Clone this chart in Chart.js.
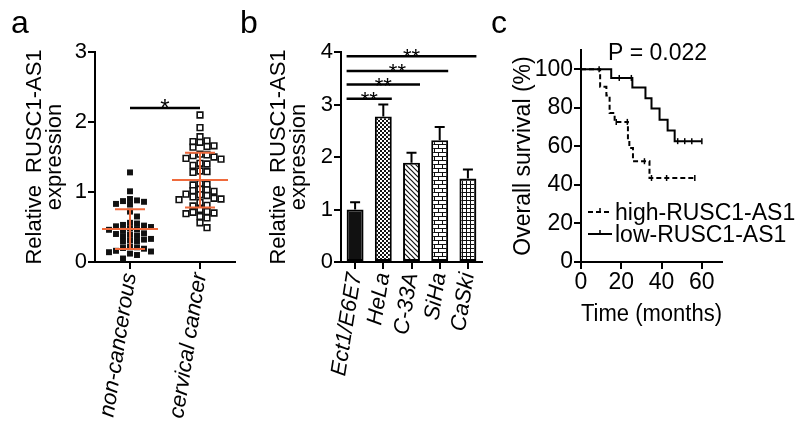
<!DOCTYPE html>
<html>
<head>
<meta charset="utf-8">
<script src="https://cdn.jsdelivr.net/npm/chart.js@4.4.1/dist/chart.umd.min.js"></script>
<style>
  body { margin: 0; background: #fff; }
  #wrap { position: relative; width: 800px; height: 430px; overflow: hidden; font-family: Arial, "Liberation Sans", sans-serif; }
  .panel { position: absolute; top: 0; }
  .panel canvas { display: block; }
  .tag { position: absolute; font-size: 32px; line-height: 32px; color: #000; }
</style>
</head>
<body>
<div id="wrap">
  <div class="panel" style="left:0"><canvas id="chartA" width="246" height="430"></canvas></div>
  <div class="panel" style="left:246px"><canvas id="chartB" width="240" height="430"></canvas></div>
  <div class="panel" style="left:486px"><canvas id="chartC" width="314" height="430"></canvas></div>
  <div class="tag" style="left:11px;top:6px">a</div>
  <div class="tag" style="left:240px;top:6px">b</div>
  <div class="tag" style="left:491px;top:6px">c</div>
</div>
<script>
// Panel a - tissue expression
const groupLabels = ["non-cancerous", "cervical cancer"];
const groupPos = [0.5, 1.5];
const nonCancerous = [1.28, 1.01, 0.90, 0.88, 0.87, 0.86, 0.83, 0.82, 0.72, 0.65, 0.56, 0.55, 0.53, 0.52,
  0.51, 0.50, 0.48, 0.47, 0.46, 0.45, 0.41, 0.40, 0.39, 0.38, 0.37, 0.33, 0.32, 0.31, 0.30, 0.29,
  0.22, 0.21, 0.20, 0.19, 0.16, 0.15, 0.14, 0.12, 0.10, 0.05];
const cervicalCancer = [2.10, 1.92, 1.79, 1.73, 1.72, 1.71, 1.66, 1.65, 1.64, 1.54, 1.53, 1.52, 1.50,
  1.48, 1.47, 1.41, 1.40, 1.38, 1.30, 1.29, 1.28, 1.12, 1.11, 1.10, 1.04, 1.03, 1.02, 1.01, 0.97,
  0.96, 0.95, 0.93, 0.91, 0.90, 0.89, 0.85, 0.81, 0.80, 0.75, 0.72, 0.71, 0.70, 0.69, 0.65, 0.63,
  0.56, 0.49];
const meanA = [0.47, 1.17];
const sdA = [0.285, 0.39];
const sigAY = 2.2;

// Panel b - cell lines
const cellLines = ["Ect1/E6E7", "HeLa", "C-33A", "SiHa", "CaSki"];
const cellExpr = [1.0, 2.77, 1.89, 2.32, 1.59];
const cellErr = [0.14, 0.23, 0.19, 0.25, 0.17];
const sigTargets = [1, 2, 3, 4];
const sigLevels = [3.11, 3.38, 3.64, 3.92];

// Panel c - survival
const highTimes = [0, 9.5, 12.6, 14.2, 16.7, 23.3, 24.0, 25.8, 34.0, 56.5];
const highSurv = [100, 90.9, 86.4, 77.3, 72.7, 63.6, 59.1, 52.3, 43.6, 43.6];
const lowTimes = [0, 15, 25.5, 32, 35, 39, 43, 46.5, 60];
const lowSurv = [100, 95.5, 90.5, 85.0, 79.6, 73.8, 68.2, 62.7, 62.7];
const highCensor = [17.5, 23, 31.5, 35, 42.5, 56.5];
const lowCensor = [9, 19, 25, 48, 51.5, 55, 60];
const kmLabels = ["high-RUSC1-AS1", "low-RUSC1-AS1"];
const timeTicks = [0, 20, 40, 60];
const survTicks = [0, 20, 40, 60, 80, 100];

const FONT = 'Arial, "Liberation Sans", sans-serif';
Chart.defaults.font.family = FONT;
Chart.defaults.color = "#000";

function axisLines(tickLength) {
    return {
        grid: { drawOnChartArea: false, drawTicks: true, tickLength: tickLength, color: "#000", lineWidth: 2, tickWidth: 2, offset: false },
        border: { color: "#000", width: 2 }
    };
}

function yAxis(min, max, step, size, title, padTop) {
    return {
        min: min, max: max,
        ticks: { stepSize: step, font: { size: size }, color: "#000", padding: 1 },
        ...axisLines(7),
        title: { display: true, text: title, color: "#000", font: { size: size, lineHeight: 0.9 }, padding: { top: padTop, bottom: 0 } },
        afterFit: s => { s.width = 95; s.paddingTop = 0; s.paddingBottom = 0; }
    };
}

function fixHeight(s) { s.height = 168; s.paddingLeft = 0; s.paddingRight = 0; }

// simple beeswarm: stack points sideways when they would overlap
function swarm(values, center, step, rowH) {
    const placed = [];
    values.slice().sort((p, q) => q - p).forEach(v => {
        for (let k = 0; ; k++) {
            const off = k === 0 ? 0 : (k % 2 ? 1 : -1) * Math.ceil(k / 2) * step;
            const hit = placed.some(p => Math.abs(p.x - (center + off)) < step * 0.9 && Math.abs(p.y - v) < rowH);
            if (!hit) { placed.push({ x: center + off, y: v }); break; }
        }
    });
    return placed;
}

const baseOpts = {
    responsive: false,
    animation: false,
    events: [],
    plugins: { legend: { display: false }, tooltip: { enabled: false } }
};

// ---------- Panel a ----------
const errA = {
    id: "errA",
    afterDatasetsDraw(chart) {
        const { ctx, scales: { x, y } } = chart;
        ctx.save();
        ctx.strokeStyle = "#ef6a3c";
        ctx.lineWidth = 2;
        groupPos.forEach((g, i) => {
            const cx = x.getPixelForValue(g);
            const m = y.getPixelForValue(meanA[i]);
            const lo = y.getPixelForValue(meanA[i] - sdA[i]);
            const hi = y.getPixelForValue(meanA[i] + sdA[i]);
            ctx.beginPath();
            ctx.moveTo(cx - 28, m); ctx.lineTo(cx + 28, m);
            ctx.moveTo(cx, lo); ctx.lineTo(cx, hi);
            ctx.moveTo(cx - 15, lo); ctx.lineTo(cx + 15, lo);
            ctx.moveTo(cx - 15, hi); ctx.lineTo(cx + 15, hi);
            ctx.stroke();
        });
        // significance bar
        const sy = y.getPixelForValue(sigAY);
        const x0 = x.getPixelForValue(groupPos[0]);
        const x1 = x.getPixelForValue(groupPos[1]);
        ctx.strokeStyle = "#000";
        ctx.lineWidth = 2.5;
        ctx.beginPath(); ctx.moveTo(x0, sy); ctx.lineTo(x1, sy); ctx.stroke();
        ctx.fillStyle = "#000";
        ctx.font = "24px " + FONT;
        ctx.textAlign = "center";
        ctx.fillText("*", (x0 + x1) / 2, sy + 8);
        ctx.restore();
    }
};

new Chart(document.getElementById("chartA"), {
    type: "scatter",
    data: {
        datasets: [{
            data: swarm(nonCancerous, groupPos[0], 0.1, 0.08),
            pointStyle: "rect", pointRadius: 4.2,
            pointBackgroundColor: "#111", pointBorderColor: "#111", pointBorderWidth: 0
        }, {
            data: swarm(cervicalCancer, groupPos[1], 0.1, 0.08),
            pointStyle: "rect", pointRadius: 4.0,
            pointBackgroundColor: "#fff", pointBorderColor: "#111", pointBorderWidth: 1.6
        }]
    },
    options: {
        ...baseOpts,
        layout: { padding: { top: 52, right: 11, left: 0, bottom: 0 } },
        scales: {
            x: {
                type: "linear", min: 0, max: 2,
                afterBuildTicks: s => { s.ticks = groupPos.map(v => ({ value: v })); },
                ticks: { callback: (v, i) => groupLabels[i], font: { size: 22, style: "italic" }, color: "#000",
                    minRotation: 81, maxRotation: 81, autoSkip: false, padding: 2 },
                ...axisLines(7),
                afterFit: fixHeight
            },
            y: yAxis(0, 3, 1, 22, ["Relative  RUSC1-AS1", "expression"], 25)
        }
    },
    plugins: [errA]
});

// ---------- Panel b ----------
function makePattern(w, h, draw) {
    const c = document.createElement("canvas");
    c.width = w; c.height = h;
    const g = c.getContext("2d");
    g.fillStyle = "#fff"; g.fillRect(0, 0, w, h);
    g.fillStyle = "#111"; g.strokeStyle = "#111"; g.lineWidth = 1.2;
    draw(g);
    return g.createPattern(c, "repeat");
}

const barFills = [
    "#111",
    makePattern(4, 4, g => { g.fillRect(0, 0, 2, 2); g.fillRect(2, 2, 2, 2); }),
    makePattern(5, 5, g => {
        g.beginPath();
        g.moveTo(-1, -1); g.lineTo(6, 6);
        g.moveTo(-1, 4); g.lineTo(1, 6);
        g.moveTo(4, -1); g.lineTo(6, 1);
        g.stroke();
    }),
    makePattern(8, 8, g => {
        g.fillRect(0, 0, 8, 1); g.fillRect(0, 4, 8, 1);
        g.fillRect(0, 0, 1, 4); g.fillRect(4, 4, 1, 4);
    }),
    makePattern(4, 4, g => { g.fillRect(0, 0, 4, 1); g.fillRect(0, 0, 1, 4); })
];

const errB = {
    id: "errB",
    afterDatasetsDraw(chart) {
        const { ctx, scales: { x, y } } = chart;
        const half = 8.5;
        ctx.save();
        ctx.strokeStyle = "#000";
        ctx.lineWidth = 2;
        cellExpr.forEach((v, i) => {
            const cx = x.getPixelForValue(i);
            const top = y.getPixelForValue(v);
            const hi = y.getPixelForValue(v + cellErr[i]);
            ctx.beginPath();
            ctx.moveTo(cx, top); ctx.lineTo(cx, hi);
            ctx.moveTo(cx - 5, hi); ctx.lineTo(cx + 5, hi);
            ctx.stroke();
        });
        ctx.fillStyle = "#000";
        ctx.font = "22px " + FONT;
        ctx.textAlign = "center";
        sigTargets.forEach((t, i) => {
            const sy = y.getPixelForValue(sigLevels[i]);
            const x0 = x.getPixelForValue(0) - half;
            const x1 = x.getPixelForValue(t) + half;
            ctx.lineWidth = 2.5;
            ctx.beginPath(); ctx.moveTo(x0, sy); ctx.lineTo(x1, sy); ctx.stroke();
            ctx.fillText("**", (x0 + x1) / 2, sy + 8);
        });
        ctx.restore();
    }
};

new Chart(document.getElementById("chartB"), {
    type: "bar",
    data: {
        labels: cellLines,
        datasets: [{
            data: cellExpr,
            backgroundColor: barFills,
            borderColor: "#000",
            borderWidth: 2,
            borderSkipped: false,
            barPercentage: 0.6,
            categoryPercentage: 1.0
        }]
    },
    options: {
        ...baseOpts,
        layout: { padding: { top: 52, right: 4, left: 0, bottom: 0 } },
        scales: {
            x: {
                ticks: { font: { size: 22, style: "italic" }, color: "#000", minRotation: 81, maxRotation: 81, autoSkip: false, padding: 2 },
                ...axisLines(7),
                afterFit: fixHeight
            },
            y: yAxis(0, 4, 1, 22, ["Relative  RUSC1-AS1", "expression"], 23)
        }
    },
    plugins: [errB]
});

// ---------- Panel c ----------
function survAt(times, surv, t) {
    let s = surv[0];
    times.forEach((tt, i) => { if (tt <= t) s = surv[i]; });
    return s;
}
const kmPoints = (times, surv) => times.map((t, i) => ({ x: t, y: surv[i] }));
const censorPoints = (list, times, surv) => list.map(t => ({ x: t, y: survAt(times, surv, t) }));

const kmExtras = {
    id: "kmExtras",
    afterDatasetsDraw(chart) {
        const ctx = chart.ctx;
        ctx.save();
        ctx.fillStyle = "#000";
        ctx.strokeStyle = "#000";
        ctx.font = "23px " + FONT;
        ctx.textAlign = "left";
        ctx.fillText("P = 0.022", 122, 60);
        // legend
        const rows = [{ y: 212, dash: [5, 3] }, { y: 234, dash: [] }];
        rows.forEach((r, i) => {
            ctx.lineWidth = 2;
            ctx.setLineDash(r.dash);
            ctx.beginPath(); ctx.moveTo(102, r.y); ctx.lineTo(126, r.y); ctx.stroke();
            ctx.setLineDash([]);
            ctx.lineWidth = 1.5;
            ctx.beginPath(); ctx.moveTo(114, r.y - 4); ctx.lineTo(114, r.y); ctx.stroke();
            ctx.fillText(kmLabels[i], 129, r.y + 8);
        });
        ctx.restore();
    }
};

new Chart(document.getElementById("chartC"), {
    type: "scatter",
    data: {
        datasets: [{
            data: kmPoints(highTimes, highSurv),
            showLine: true, stepped: "before", borderColor: "#000", borderWidth: 2, borderDash: [5, 3], pointRadius: 0
        }, {
            data: kmPoints(lowTimes, lowSurv),
            showLine: true, stepped: "before", borderColor: "#000", borderWidth: 2, pointRadius: 0
        }, {
            data: censorPoints(highCensor, highTimes, highSurv),
            showLine: false, pointStyle: "line", pointRotation: 90, pointRadius: 3, pointBorderColor: "#000", pointBorderWidth: 1.5
        }, {
            data: censorPoints(lowCensor, lowTimes, lowSurv),
            showLine: false, pointStyle: "line", pointRotation: 90, pointRadius: 3, pointBorderColor: "#000", pointBorderWidth: 1.5
        }]
    },
    options: {
        ...baseOpts,
        layout: { padding: { top: 50, right: 78, left: 0, bottom: 0 } },
        scales: {
            x: {
                type: "linear", min: 0, max: 70,
                afterBuildTicks: s => { s.ticks = timeTicks.map(v => ({ value: v })); },
                ticks: { font: { size: 23 }, color: "#000", padding: 0, maxRotation: 0 },
                ...axisLines(7),
                title: { display: true, text: "Time (months)", color: "#000", font: { size: 23, lineHeight: 1 }, padding: { top: 0, bottom: 104 } },
                afterFit: fixHeight
            },
            y: {
                ...yAxis(0, 110, 20, 23, "Overall survival (%)", 27),
                afterBuildTicks: s => { s.ticks = survTicks.map(v => ({ value: v })); }
            }
        }
    },
    plugins: [kmExtras]
});
</script>
</body>
</html>
